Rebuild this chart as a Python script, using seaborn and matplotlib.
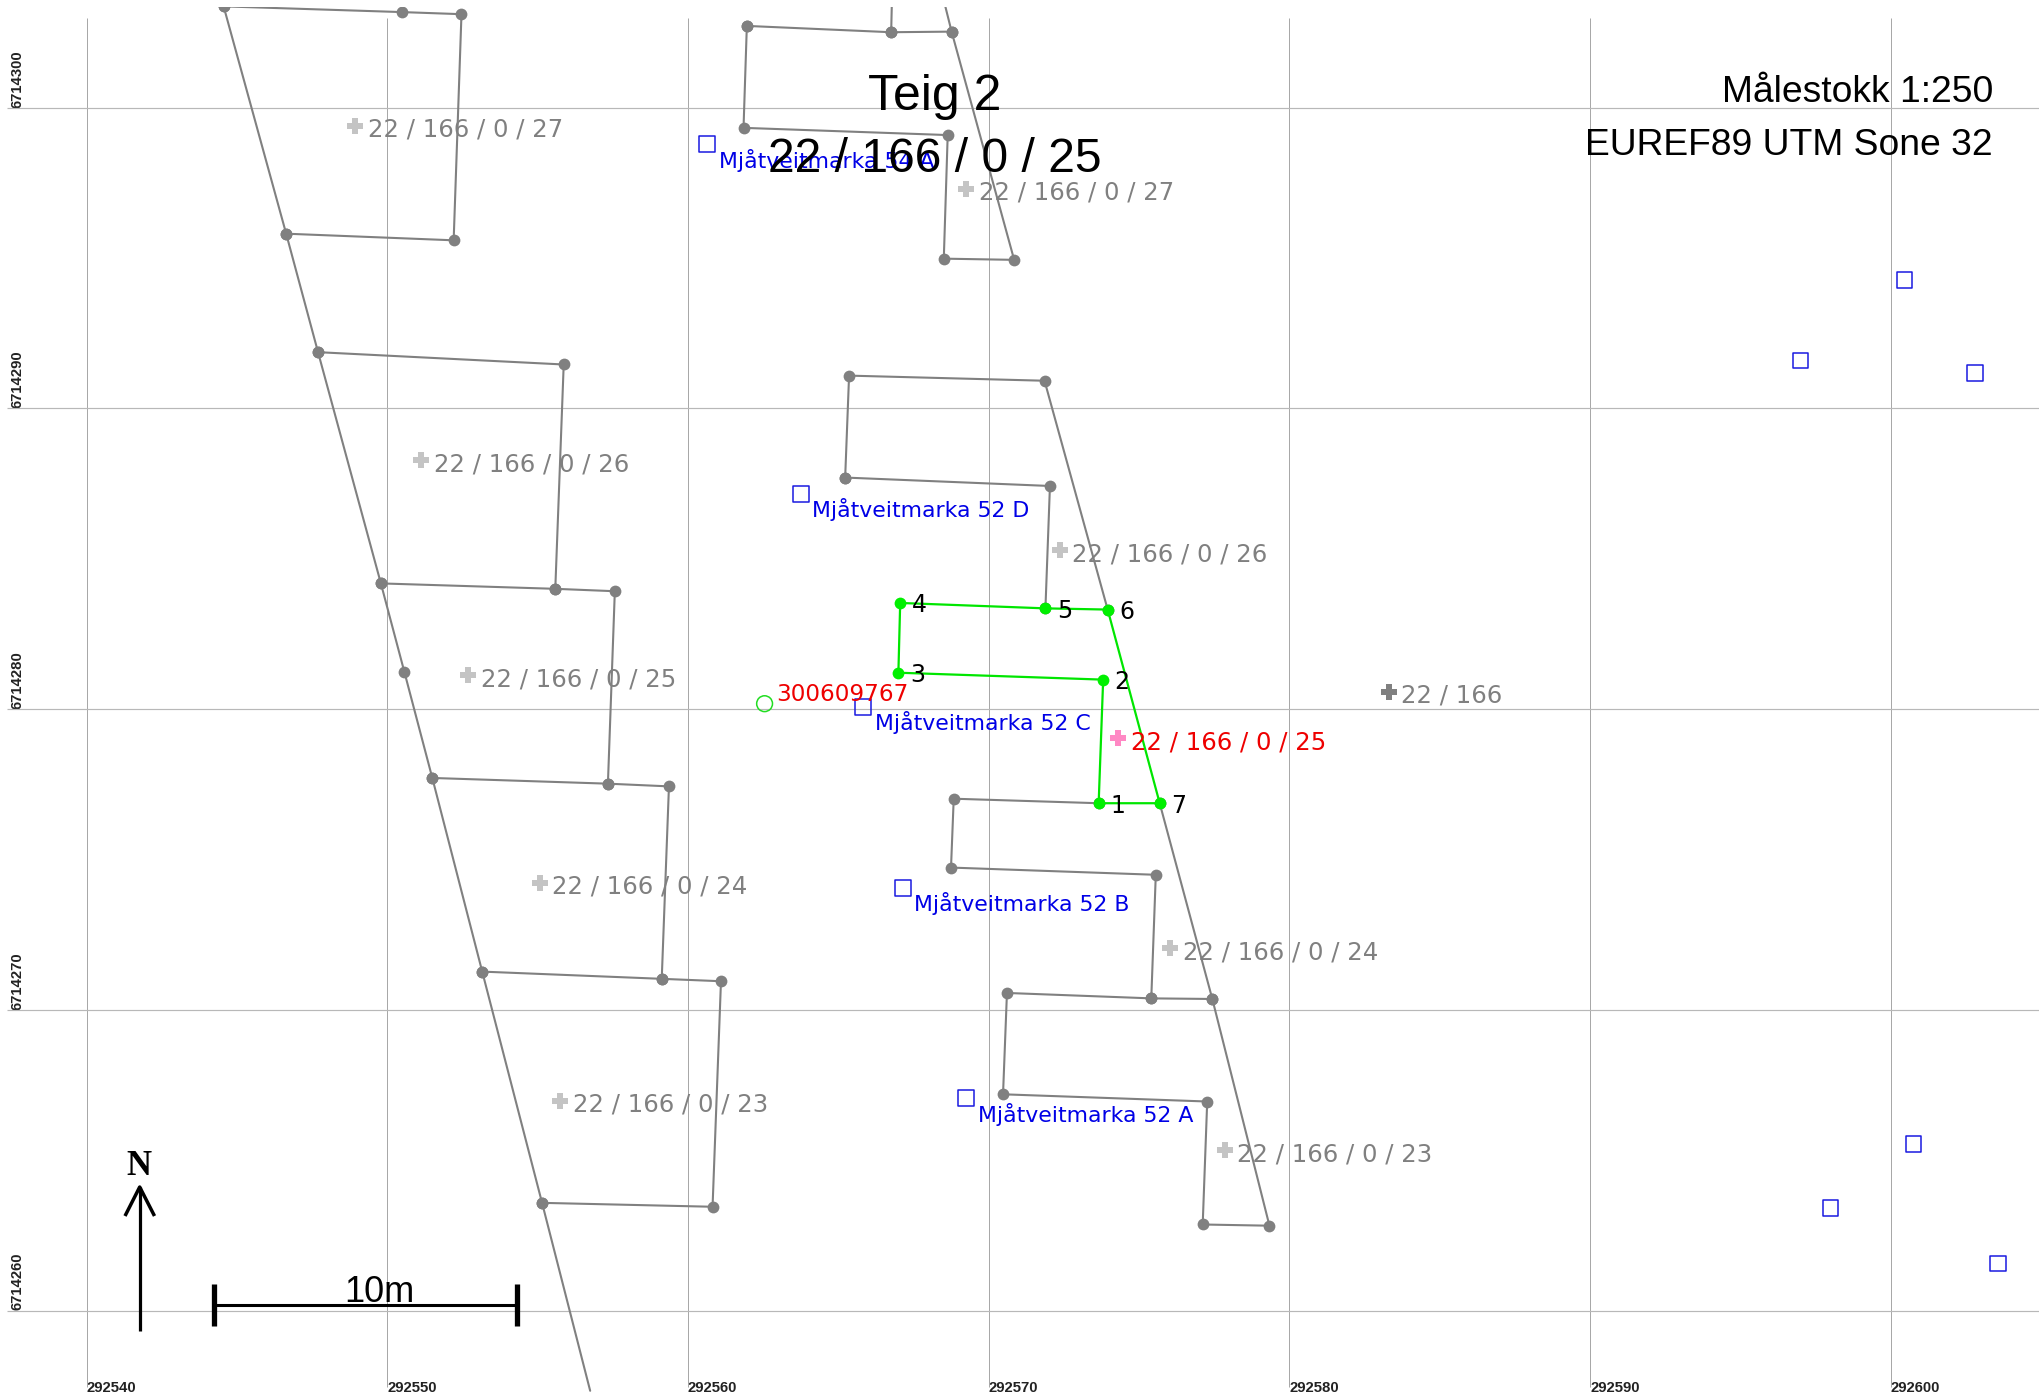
import matplotlib
matplotlib.use("Agg")
import matplotlib.pyplot as plt
from matplotlib.lines import Line2D
import pandas as pd
import seaborn as sns

E0 = 292500
N0 = 6714200

# Boundary lines: east and north as metres above E0 / N0
west_e = [44.56, 46.64, 47.70, 49.79, 50.57, 51.50, 53.16, 55.15, 56.75]
west_n = [103.37, 95.81, 91.87, 84.18, 81.24, 77.71, 71.27, 63.58, 57.33]
p27w_e = [44.56, 50.48, 52.47, 52.21, 46.64]
p27w_n = [103.37, 103.18, 103.11, 95.59, 95.81]
p26w_e = [47.70, 55.87, 55.59, 49.79]
p26w_n = [91.87, 91.46, 84.00, 84.18]
p25w_e = [55.59, 57.57, 57.34, 51.50]
p25w_n = [84.00, 83.92, 77.52, 77.71]
p24w_e = [57.34, 59.37, 59.13, 53.16]
p24w_n = [77.52, 77.43, 71.03, 71.27]
p23w_e = [59.13, 61.10, 60.82, 55.15]
p23w_n = [71.03, 70.95, 63.45, 63.58]
p27e_e = [61.96, 66.76, 68.77, 70.85, 68.51, 68.64, 61.85, 61.96]
p27e_n = [102.72, 102.51, 102.53, 94.94, 94.98, 99.09, 99.33, 102.72]
stub1_e = [66.78, 66.76]
stub1_n = [103.37, 102.51]
stub2_e = [68.56, 68.77]
stub2_n = [103.37, 102.53]
p26e_e = [65.23, 65.36, 71.86, 73.96]
p26e_n = [87.70, 91.09, 90.92, 83.31]
p26f_e = [65.23, 72.04, 71.89]
p26f_n = [87.70, 87.42, 83.35]
p24e_e = [73.66, 68.84, 68.75, 75.56, 75.41, 77.44]
p24e_n = [76.87, 77.02, 74.73, 74.49, 70.38, 70.36]
p23e_e = [75.69, 77.44, 79.34, 77.12, 77.27, 70.48, 70.61, 75.41]
p23e_n = [76.87, 70.36, 62.82, 62.86, 66.95, 67.19, 70.56, 70.38]
gray_lines = [(west_e, west_n), (p27w_e, p27w_n), (p26w_e, p26w_n), (p25w_e, p25w_n),
              (p24w_e, p24w_n), (p23w_e, p23w_n), (p27e_e, p27e_n), (stub1_e, stub1_n),
              (stub2_e, stub2_n), (p26e_e, p26e_n), (p26f_e, p26f_n), (p24e_e, p24e_n),
              (p23e_e, p23e_n)]
open_ends = {(56.75, 57.33), (66.78, 103.37), (68.56, 103.37)}

# Selected parcel, corners 1..7
teig_e = [73.66, 73.81, 67.00, 67.06, 71.89, 73.96, 75.69]
teig_n = [76.87, 80.98, 81.21, 83.53, 83.35, 83.31, 76.87]
teig_labels = ["1", "2", "3", "4", "5", "6", "7"]

# Buildings / addresses
addr_e = [60.64, 63.76, 65.83, 67.15, 69.25]
addr_n = [98.79, 87.16, 80.07, 74.06, 67.06]
addr_labels = ["Mjåtveitmarka 54 A", "Mjåtveitmarka 52 D", "Mjåtveitmarka 52 C",
               "Mjåtveitmarka 52 B", "Mjåtveitmarka 52 A"]
other_e = [100.46, 97.00, 102.80, 100.76, 98.00, 103.58]
other_n = [94.27, 91.59, 91.18, 65.54, 63.42, 61.56]

# Parcel labels
parcel_e = [48.93, 69.25, 51.13, 72.36, 52.69, 55.07, 76.04, 55.76, 77.85]
parcel_n = [99.39, 97.30, 88.28, 85.28, 81.13, 74.23, 72.05, 66.97, 65.33]
parcel_labels = ["22 / 166 / 0 / 27", "22 / 166 / 0 / 27", "22 / 166 / 0 / 26",
                 "22 / 166 / 0 / 26", "22 / 166 / 0 / 25", "22 / 166 / 0 / 24",
                 "22 / 166 / 0 / 24", "22 / 166 / 0 / 23", "22 / 166 / 0 / 23"]
main_e, main_n, main_label = [83.30], [80.57], "22 / 166"
sel_e, sel_n, sel_label = [74.31], [79.03], "22 / 166 / 0 / 25"
fix_e, fix_n, fix_label = [62.55], [80.18], "300609767"

x_ticks = [292540, 292550, 292560, 292570, 292580, 292590, 292600]
y_ticks = [6714260, 6714270, 6714280, 6714290, 6714300]

sns.set_theme(style="white")
plt.rcParams["font.family"] = ["DejaVu Sans"]
W, H = 2040, 1399
fig = plt.figure(figsize=(W / 100, H / 100), dpi=100, facecolor="white")
top_px, bot_px = 7, 1393
ax = fig.add_axes([0, 1 - bot_px / H, 1, (bot_px - top_px) / H])
PPM = 30.07
xmin = 292540 - 86.5 / PPM
ymax = 6714300 + (107.7 - top_px) / PPM
ax.set_xlim(xmin, xmin + W / PPM)
ax.set_ylim(ymax - (bot_px - top_px) / PPM, ymax)
sns.despine(ax=ax, left=True, bottom=True, top=True, right=True)

ax.vlines(x_ticks, ymax - (1387 - top_px) / PPM, ymax - (18 - top_px) / PPM,
          color="#a8a8a8", lw=0.72, zorder=1)
ax.hlines(y_ticks, xmin + 7 / PPM, xmin + W / PPM, color="#b8b8b8", lw=0.85, zorder=1)

ax.set_xticks(x_ticks)
ax.set_yticks(y_ticks)
ax.set_xticklabels([str(v) for v in x_ticks], ha="left", family="Liberation Sans",
                   fontweight="bold", fontsize=10.7, color="#222222")
ax.set_yticklabels([str(v) for v in y_ticks], rotation=90, va="bottom", family="Liberation Sans",
                   fontweight="bold", fontsize=10.7, color="#222222")
ax.tick_params(axis="x", length=0, pad=-9)
ax.tick_params(axis="y", length=0, pad=-17.5)
ax.set_xlabel("")
ax.set_ylabel("")

rows = []
for i, (es, ns) in enumerate(gray_lines):
    for e, n in zip(es, ns):
        rows.append({"e": E0 + e, "n": N0 + n, "unit": i, "node": (e, n) not in open_ends})
gray = pd.DataFrame(rows)
sns.lineplot(data=gray, x="e", y="n", units="unit", estimator=None, sort=False, color="#808080",
             lw=1.5, ax=ax, legend=False, zorder=3)
sns.scatterplot(data=gray[gray.node], x="e", y="n", color="#808080", s=72, linewidth=0,
                ax=ax, legend=False, zorder=4)

teig = pd.DataFrame({"e": [E0 + v for v in teig_e], "n": [N0 + v for v in teig_n]})
teig_closed = pd.concat([teig, teig.iloc[[0]]], ignore_index=True)
sns.lineplot(data=teig_closed, x="e", y="n", estimator=None, sort=False, color="#00e600",
             lw=1.6, ax=ax, legend=False, zorder=5)
sns.scatterplot(data=teig, x="e", y="n", color="#00f000", s=72, linewidth=0, ax=ax,
                legend=False, zorder=6)


def open_markers(es, ns, marker, size, edge, lw=1.1):
    d = pd.DataFrame({"e": [E0 + v for v in es], "n": [N0 + v for v in ns]})
    sns.scatterplot(data=d, x="e", y="n", marker=marker, s=size, facecolors="none",
                    edgecolor=edge, linewidth=lw, ax=ax, legend=False, zorder=6)


def plus_markers(es, ns, color):
    d = pd.DataFrame({"e": [E0 + v for v in es], "n": [N0 + v for v in ns]})
    sns.scatterplot(data=d, x="e", y="n", marker="P", s=125, color=color, linewidth=0,
                    ax=ax, legend=False, zorder=6)


def labels(es, ns, texts, color, dx=12.5, dy=-3.9, size=17.6):
    for e, n, t in zip(es, ns, texts):
        ax.annotate(t, (E0 + e, N0 + n), xytext=(dx, dy), textcoords="offset pixels", ha="left",
                    va="center", fontsize=size, color=color, zorder=8)


open_markers(addr_e + other_e, addr_n + other_n, "s", 128, "#1a1ae0")
labels(addr_e, addr_n, addr_labels, "#0000e6", dx=11.5, dy=-16, size=15.8)

plus_markers(parcel_e, parcel_n, "#c4c4c4")
labels(parcel_e, parcel_n, parcel_labels, "#808080")
plus_markers(main_e, main_n, "#808080")
labels(main_e, main_n, [main_label], "#808080")
plus_markers(sel_e, sel_n, "#ff88c4")
labels(sel_e, sel_n, [sel_label], "#ee0000")
open_markers(fix_e, fix_n, "o", 130, "#22dd22")
labels(fix_e, fix_n, [fix_label], "#ee0000", dx=11.5, dy=9, size=16.7)
labels(teig_e, teig_n, teig_labels, "black", dx=11.5, dy=-2.5, size=17)


# Titles
def ftext(x, y, s, **kw):
    fig.text(x / W, 1 - y / H, s, va="baseline", **kw)


sans = {"family": "Liberation Sans", "color": "black"}
ftext(935, 110.5, "Teig 2", ha="center", fontsize=36, **sans)
ftext(935, 171.5, "22 / 166 / 0 / 25", ha="center", fontsize=34.6, **sans)
ftext(1993, 102, "Målestokk 1:250", ha="right", fontsize=26.8, **sans)
ftext(1993, 155, "EUREF89 UTM Sone 32", ha="right", fontsize=26.8, **sans)
ftext(379.5, 1302, "10m", ha="center", fontsize=26, **sans)
ftext(139, 1175, "N", ha="center", fontsize=25, family="Liberation Serif", fontweight="bold",
      color="black")


def fline(xs, ys, lw):
    fig.add_artist(Line2D([x / W for x in xs], [1 - y / H for y in ys], color="black", lw=lw,
                          solid_capstyle="butt", zorder=9))


fline([139.7, 139.7], [1331, 1187], 2.3)
fline([125, 139.7, 154.5], [1216, 1187, 1216], 2.5)
fline([214.5, 517.5], [1305, 1305], 2.2)
fline([214.5, 214.5], [1284, 1326], 3.8)
fline([517.5, 517.5], [1284, 1326], 3.8)

fig.savefig("out.png", dpi=100, facecolor="white")
